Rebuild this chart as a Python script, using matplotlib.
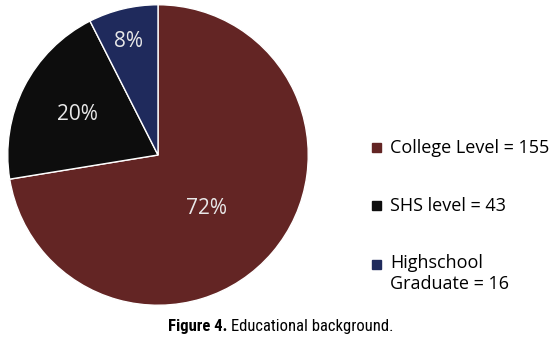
import matplotlib
matplotlib.use('Agg')
import matplotlib.pyplot as plt
from matplotlib import font_manager
from matplotlib.patches import Rectangle
import numpy as np

# data
categories = ['College Level', 'SHS level', 'Highschool\nGraduate']
counts = [155, 43, 16]
pct_labels = ['72%', '20%', '8%']
colors = ['#632524', '#0d0d0d', '#1f2a5c']
# label placement inside the wedges (fraction of radius, angle shift in deg)
label_radius = [0.48, 0.6, 0.78]
label_shift = [-7, 0, 1]

names = {f.name for f in font_manager.fontManager.ttflist}
narrow = next((f for f in ['Liberation Sans Narrow', 'Roboto Condensed', 'Open Sans Condensed']
               if f in names), 'DejaVu Sans')

W, H = 558, 347
fig = plt.figure(figsize=(W / 100, H / 100), dpi=100)
ax = fig.add_axes([7 / W, 41 / H, 302 / W, 302 / H])

wedges, _ = ax.pie(counts, colors=colors, startangle=90, counterclock=False,
                   wedgeprops=dict(edgecolor='white', linewidth=1.0))
ax.set_aspect('equal')
ax.set_xlim(-1.005, 1.005)
ax.set_ylim(-1.005, 1.005)

for w, lab, r, s in zip(wedges, pct_labels, label_radius, label_shift):
    ang = np.deg2rad((w.theta1 + w.theta2) / 2 + s)
    ax.text(r * np.cos(ang), r * np.sin(ang), lab, ha='center', va='center',
            color='#e8e8e8', fontsize=15, family='Open Sans')

# legend on the right
y0 = 1 - 148 / H
step = 58 / H
for i, (name, n, c) in enumerate(zip(categories, counts, colors)):
    y = y0 - i * step
    multi = '\n' in name
    fig.patches.append(Rectangle((372 / W, y - 4.5 / H), 9 / W, 9 / H,
                                 transform=fig.transFigure, color=c))
    fig.text(390 / W, y + (10 / H if multi else 0), f'{name} = {n}', ha='left',
             va='top' if multi else 'center', fontsize=13, family='Open Sans',
             color='black', linespacing=1.2)

# caption
stretch = 'normal' if narrow != 'DejaVu Sans' else 'condensed'
t1 = fig.text(168 / W, 1 - 327 / H, 'Figure 4.', ha='left', va='center',
              fontsize=12, fontweight='bold', family=narrow, fontstretch=stretch)
fig.canvas.draw()
bb = t1.get_window_extent()
fig.text((bb.x1 + 4) / W, 1 - 327 / H, 'Educational background.', ha='left',
         va='center', fontsize=12, family=narrow, fontstretch=stretch)

fig.savefig('out.png', dpi=100)
